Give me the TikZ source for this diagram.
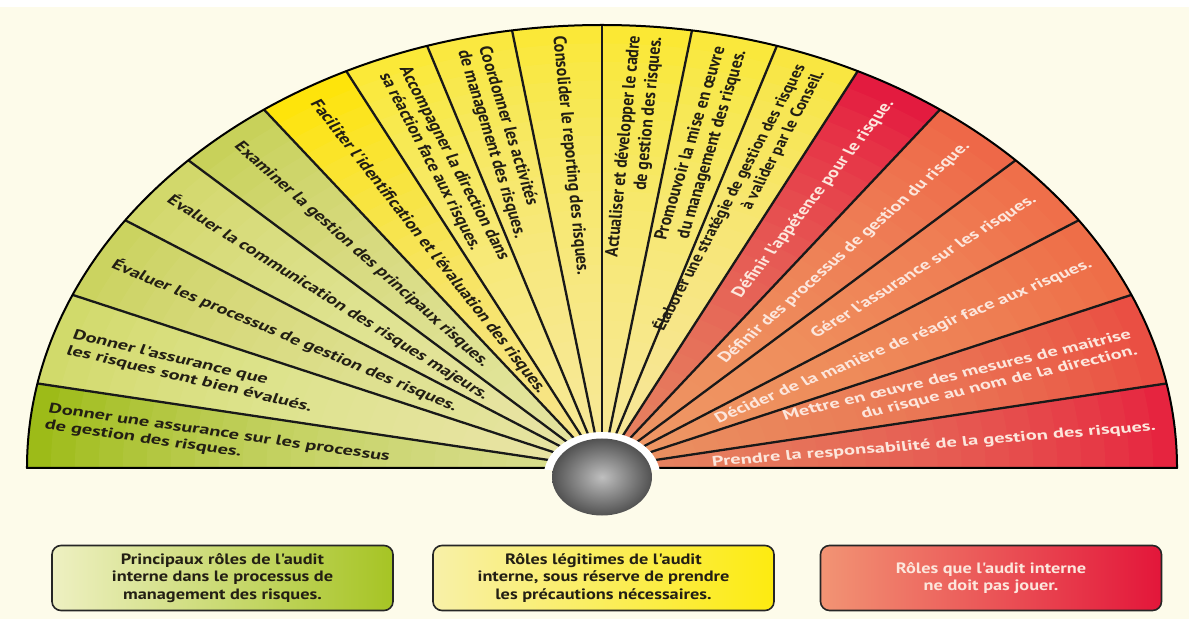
\documentclass[tikz,border=0pt]{standalone}
\usepackage{fontspec}
\setmainfont{PT Sans}
\newfontfamily\fanfont[FakeStretch=1.13]{PT Sans}
\newfontfamily\legfont[FakeStretch=1.22]{PT Sans}
\definecolor{bg}{HTML}{FDFBEA}
\definecolor{inkc}{HTML}{231F14}
\definecolor{redtxt}{HTML}{FCE6DC}
\definecolor{paleY}{HTML}{F7F3C0}
\definecolor{paleR}{HTML}{F6AE74}
\definecolor{w1}{HTML}{98B80E}
\definecolor{w2}{HTML}{CFD966}
\definecolor{w3}{HTML}{C9D25A}
\definecolor{w4}{HTML}{D0D766}
\definecolor{w5}{HTML}{C6CF54}
\definecolor{w6}{HTML}{FFE400}
\definecolor{w7}{HTML}{FCE930}
\definecolor{w8}{HTML}{FBE838}
\definecolor{w9}{HTML}{FCE830}
\definecolor{w10}{HTML}{FCE82C}
\definecolor{w11}{HTML}{FBE834}
\definecolor{w12}{HTML}{FAE63A}
\definecolor{w13}{HTML}{E2123C}
\definecolor{w14}{HTML}{EE6446}
\definecolor{w15}{HTML}{EF6C48}
\definecolor{w16}{HTML}{EE6A46}
\definecolor{w17}{HTML}{EA4A40}
\definecolor{w18}{HTML}{E51C3C}
\definecolor{lgA}{HTML}{EEF0C2}
\definecolor{lgB}{HTML}{A6C424}
\definecolor{lyA}{HTML}{F8F0A8}
\definecolor{lyB}{HTML}{FDEB10}
\definecolor{lrA}{HTML}{F29474}
\definecolor{lrB}{HTML}{E3163A}
\begin{document}
\begin{tikzpicture}[x=1pt,y=1pt,
  wtxt/.style={font=\fanfont\bfseries\fontsize{14}{16.5}\selectfont, text=inkc, inner sep=1pt, transform shape},
  ltxt/.style={wtxt, anchor=west, align=left},
  ytxt/.style={wtxt, anchor=east, align=right},
  rtxt/.style={wtxt, anchor=east, align=right, text=redtxt},
  divider/.style={line width=2.3pt, draw=black!90},
  legbox/.style={rounded corners=9pt, draw=black!85, line width=1.6pt, minimum width=341pt, minimum height=65pt, align=center, font=\legfont\bfseries\fontsize{15}{17.5}\selectfont, inner sep=0pt}
]
\useasboundingbox (0,0) rectangle (1189,619);
\fill[bg] (0,0) rectangle (1189,619);
\fill[white] (0,612) rectangle (1189,619);

\begin{scope}[shift={(602,151)}, xscale=1.298]
  \def\R{443}
  % wedges
  \foreach \a/\b/\c in {169/180/w1, 157/169/w2, 146/157/w3, 136/146/w4, 126/136/w5,
      116.4/126/w6, 107.7/116.4/w7, 99/107.7/w8, 90/99/w9, 81/90/w10, 72.3/81/w11,
      63.6/72.3/w12, 54/63.6/w13, 44/54/w14, 34/44/w15, 23/34/w16, 11/23/w17, 0/11/w18}{
    \fill[\c] (0,0) -- (\a:\R) arc[start angle=\a, end angle=\b, radius=\R] -- cycle;
  }
  % paler towards the centre
  \begin{scope}
    \clip (0,0) -- (63.6:\R) arc[start angle=63.6, end angle=180, radius=\R] -- cycle;
    \foreach \k in {1,...,24}{ \fill[paleY, opacity=0.06] (0,0) circle ({\R*\k/24}); }
  \end{scope}
  \begin{scope}
    \clip (0,0) -- (0:\R) arc[start angle=0, end angle=63.6, radius=\R] -- cycle;
    \foreach \k in {1,...,24}{ \fill[paleR, opacity=0.06] (0,0) circle ({\R*\k/24}); }
  \end{scope}
  % dividers
  \foreach \a in {169,157,146,136,126,116.4,107.7,99,90,81,72.3,63.6,54,44,34,23,11}{
    \draw[divider] (0,0) -- (\a:\R);
  }
  \draw[line width=2pt, line join=round] (0:\R) arc[start angle=0, end angle=180, radius=\R] -- cycle;

  % texts, left half
  \node[ltxt, rotate=-10.5] (t1) at ({173.2}:{0.975*\R}) {Donner une assurance sur les processus\\de gestion des risques.};
  \node[ltxt, rotate=-17] (t2) at ({163}:{0.97*\R}) {Donner l'assurance que\\les risques sont bien évalués.};
  \node[ltxt, rotate=-28.5] (t3) at ({151.5}:{0.97*\R}) {Évaluer les processus de gestion des risques.};
  \node[ltxt, rotate=-39] (t4) at ({141}:{0.97*\R}) {Évaluer la communication des risques majeurs.};
  \node[ltxt, rotate=-49] (t5) at ({131}:{0.97*\R}) {Examiner la gestion des principaux risques.};
  \node[ltxt, rotate=-58.8] (t6) at ({121.2}:{0.97*\R}) {Faciliter l'identification et l'évaluation des risques.};
  \node[ltxt, rotate=-68] (t7) at ({112}:{0.97*\R}) {Accompagner la direction dans\\sa réaction face aux risques.};
  \node[ltxt, rotate=-76.65] (t8) at ({103.35}:{0.975*\R}) {Coordonner les activités\\de management des risques.};
  \node[ltxt, rotate=-85.5] (t9) at ({94.5}:{0.98*\R}) {Consolider le reporting des risques.};
  % texts, right half
  \node[ytxt, rotate=85.5] (t10) at ({85.5}:{0.98*\R}) {Actualiser et développer le cadre\\de gestion des risques.};
  \node[ytxt, rotate=76.65] (t11) at ({76.65}:{0.975*\R}) {Promouvoir la mise en œuvre\\du management des risques.};
  \node[ytxt, rotate=67.6, font=\fanfont\bfseries\fontsize{13.2}{15.8}\selectfont] (t12) at ({68.2}:{0.975*\R}) {Élaborer une stratégie de gestion des risques\\à valider par le Conseil.};
  \node[rtxt, rotate=58.8] (t13) at ({58.8}:{0.97*\R}) {Définir l'appétence pour le risque.};
  \node[rtxt, rotate=49] (t14) at ({49}:{0.97*\R}) {Définir des processus de gestion du risque.};
  \node[rtxt, rotate=39] (t15) at ({39}:{0.97*\R}) {Gérer l'assurance sur les risques.};
  \node[rtxt, rotate=28.5] (t16) at ({28.5}:{0.97*\R}) {Décider de la manière de réagir face aux risques.};
  \node[rtxt, rotate=17] (t17) at ({17}:{0.97*\R}) {Mettre en œuvre des mesures de maitrise\\du risque au nom de la direction.};
  \node[rtxt, rotate=6] (t18) at ({5.5}:{0.97*\R}) {Prendre la responsabilité de la gestion des risques.};

  % central ball
  \begin{scope}
    \clip (-80,-2) rectangle (80,80);
    \fill[white] (0,-9) circle (45);
  \end{scope}
  \shade[inner color=black!25, outer color=black!68] (0,-9) circle (38.5);
\end{scope}

% legend
\node[legbox, left color=lgA, right color=lgB, text=inkc] (k1) at (222.5,41)
  {Principaux rôles de l'audit\\interne dans le processus de\\management des risques.};
\node[legbox, left color=lyA, right color=lyB, text=inkc] (k2) at (603.5,41)
  {Rôles légitimes de l'audit\\interne, sous réserve de prendre\\les précautions nécessaires.};
\node[legbox, left color=lrA, right color=lrB, text=redtxt] (k3) at (991,41)
  {Rôles que l'audit interne\\ne doit pas jouer.};
\end{tikzpicture}
\end{document}
